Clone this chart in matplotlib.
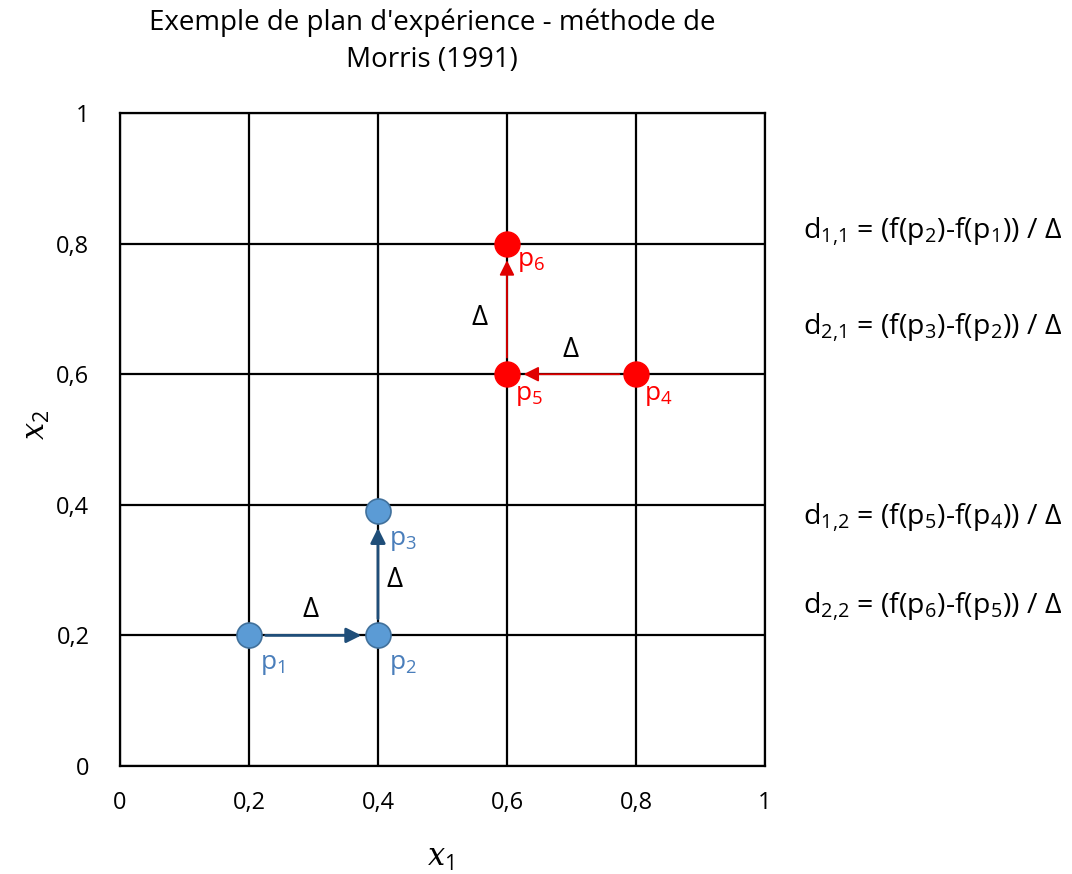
import matplotlib
matplotlib.use('Agg')
import matplotlib.pyplot as plt

plt.rcParams['font.family'] = ['Open Sans', 'DejaVu Sans']
plt.rcParams['mathtext.fontset'] = 'custom'
plt.rcParams['mathtext.rm'] = 'Open Sans'
plt.rcParams['mathtext.it'] = 'DejaVu Serif:italic'
plt.rcParams['mathtext.default'] = 'regular'

# points du plan (trajectoires de Morris)
blue_x = [0.2, 0.4, 0.4]
blue_y = [0.2, 0.2, 0.39]
blue_labels = ['p$_1$', 'p$_2$', 'p$_3$']
red_x = [0.8, 0.6, 0.6]
red_y = [0.6, 0.6, 0.8]
red_labels = ['p$_4$', 'p$_5$', 'p$_6$']

ticks = [0, 0.2, 0.4, 0.6, 0.8, 1]
tick_labels = ['0', '0,2', '0,4', '0,6', '0,8', '1']

formulas = ['d$_{1{,}1}$ = (f(p$_2$)-f(p$_1$)) / Δ',
            'd$_{2{,}1}$ = (f(p$_3$)-f(p$_2$)) / Δ',
            'd$_{1{,}2}$ = (f(p$_5$)-f(p$_4$)) / Δ',
            'd$_{2{,}2}$ = (f(p$_6$)-f(p$_5$)) / Δ']

blue = '#5B9BD5'
blue_edge = '#41719C'
blue_arrow = '#1F4E79'
blue_text = '#4A7EBB'
red = '#FF0000'

fig = plt.figure(figsize=(10.72, 8.74), dpi=100)
ax = fig.add_axes([0.1119, 0.1236, 0.6017, 0.7471])

ax.set_xlim(0, 1)
ax.set_ylim(0, 1)
ax.set_xticks(ticks)
ax.set_yticks(ticks)
ax.set_xticklabels(tick_labels, fontsize=17)
ax.set_yticklabels(tick_labels, fontsize=17)
ax.tick_params(axis='x', length=0, pad=18)
ax.tick_params(axis='y', length=0, pad=22)
ax.grid(True, color='black', linewidth=1.6)
for s in ax.spines.values():
    s.set_linewidth(1.6)

ax.text(0.496, -0.141, r'$\mathit{x}_1$', fontsize=22, ha='center', va='center',
        transform=ax.transAxes)
ax.text(-0.129, 0.522, r'$\mathit{x}_2$', fontsize=22, ha='center', va='center',
        rotation=90, transform=ax.transAxes)
fig.text(0.403, 0.953, "Exemple de plan d'expérience - méthode de\nMorris (1991)",
         fontsize=20, ha='center', va='center', linespacing=1.4)

# fleches
arrow_b = dict(arrowstyle='-|>,head_length=0.9,head_width=0.45', color=blue_arrow,
               lw=2, shrinkA=12, shrinkB=12)
arrow_r = dict(arrowstyle='-|>,head_length=0.9,head_width=0.45', color='#E00000',
               lw=1.3, shrinkA=12, shrinkB=12)
for i in range(2):
    ax.annotate('', xy=(blue_x[i + 1], blue_y[i + 1]), xytext=(blue_x[i], blue_y[i]),
                arrowprops=arrow_b, zorder=4)
    ax.annotate('', xy=(red_x[i + 1], red_y[i + 1]), xytext=(red_x[i], red_y[i]),
                arrowprops=arrow_r, zorder=4)

ax.plot(blue_x, blue_y, 'o', ls='none', ms=18, mfc=blue, mec=blue_edge, mew=1.2,
        zorder=5, clip_on=False)
ax.plot(red_x, red_y, 'o', ls='none', ms=18, mfc=red, mec=red, zorder=5, clip_on=False)

for x, y, t in zip(blue_x, blue_y, blue_labels):
    ax.annotate(t, (x, y), xytext=(8, -12), textcoords='offset points',
                color=blue_text, fontsize=19, va='top', ha='left')
for x, y, t in zip(red_x, red_y, red_labels):
    ax.annotate(t, (x, y), xytext=(6, -6) if y < 0.7 else (7, -4), textcoords='offset points',
                color=red, fontsize=19, va='top', ha='left')

# libelles delta
ax.text(0.295, 0.239, 'Δ', fontsize=20, ha='center', va='center')
ax.text(0.426, 0.285, 'Δ', fontsize=20, ha='center', va='center')
ax.text(0.698, 0.637, 'Δ', fontsize=20, ha='center', va='center')
ax.text(0.558, 0.686, 'Δ', fontsize=20, ha='center', va='center')

# formules
for f, yy in zip(formulas, [0.818, 0.672, 0.380, 0.2435]):
    ax.text(1.059, yy, f, fontsize=20.5, ha='left', va='center',
            transform=ax.transAxes, clip_on=False)

fig.savefig('out.png', dpi=100)
